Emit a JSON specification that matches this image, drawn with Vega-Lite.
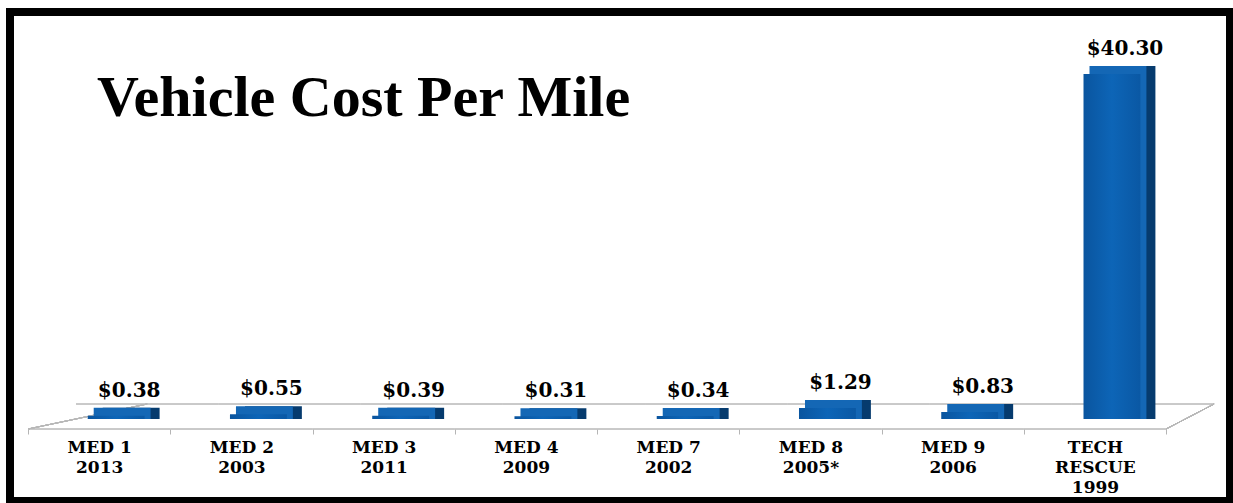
{
  "$schema": "https://vega.github.io/schema/vega-lite/v6.json",
  "width": 1220,
  "height": 489,
  "autosize": {"type": "none"},
  "padding": {"left": 10, "top": 12, "right": 3, "bottom": 2},
  "background": "white",
  "title": {
    "text": "Vehicle Cost Per Mile",
    "anchor": "start",
    "frame": "group",
    "font": "Liberation Serif",
    "fontSize": 58,
    "fontWeight": "bold",
    "color": "black",
    "baseline": "alphabetic",
    "offset": 0,
    "dx": 87,
    "dy": 162
  },
  "data": {
    "values": [
      {"vehicle": "MED 1\n2013", "cost": 0.38},
      {"vehicle": "MED 2\n2003", "cost": 0.55},
      {"vehicle": "MED 3\n2011", "cost": 0.39},
      {"vehicle": "MED 4\n2009", "cost": 0.31},
      {"vehicle": "MED 7\n2002", "cost": 0.34},
      {"vehicle": "MED 8\n2005*", "cost": 1.29},
      {"vehicle": "MED 9\n2006", "cost": 0.83},
      {"vehicle": "TECH\nRESCUE\n1999", "cost": 40.30}
    ]
  },
  "encoding": {
    "x": {
      "field": "vehicle",
      "type": "nominal",
      "sort": null,
      "scale": {"paddingInner": 0, "paddingOuter": 0.288, "align": 0.22},
      "axis": {
        "title": null,
        "orient": "bottom",
        "offset": -72,
        "domain": false,
        "ticks": true,
        "tickBand": "extent",
        "tickSize": 5,
        "tickColor": "#b5b5b5",
        "tickWidth": 1,
        "grid": false,
        "labelAngle": 0,
        "labelFont": "DejaVu Serif",
        "labelFontWeight": "bold",
        "labelFontSize": 17,
        "labelColor": "black",
        "labelPadding": 5,
        "labelBaseline": "top",
        "labelLineHeight": 20,
        "labelExpr": "isValid(datum.value) ? split(datum.value, '\\n') : ''"
      }
    }
  },
  "layer": [
    {
      "mark": {"type": "bar", "fill": "transparent", "stroke": "#b8b8b8", "strokeWidth": 1, "width": {"band": 1}},
      "encoding": {
        "y": {"datum": -1.17, "type": "quantitative", "axis": null, "scale": {"domain": [-9.58, 47.54], "nice": false, "zero": false}},
        "y2": {"datum": -1.17}
      }
    },
    {
      "mark": {"type": "bar", "fill": "transparent", "stroke": "#b8b8b8", "strokeWidth": 1, "width": {"band": 1}, "xOffset": 48},
      "encoding": {
        "y": {"datum": 1.75, "type": "quantitative", "axis": null},
        "y2": {"datum": 1.75}
      }
    },
    {
      "mark": {"type": "rule", "color": "#b8b8b8", "strokeWidth": 1, "x2Offset": 48},
      "encoding": {
        "x": {"datum": "MED 1\n2013", "bandPosition": 0},
        "x2": {"datum": "MED 1\n2013"},
        "y": {"datum": -1.17, "type": "quantitative", "axis": null},
        "y2": {"datum": 1.75}
      }
    },
    {
      "mark": {"type": "rule", "color": "#b8b8b8", "strokeWidth": 1, "x2Offset": 48},
      "encoding": {
        "x": {"datum": "TECH\nRESCUE\n1999", "bandPosition": 1},
        "x2": {"datum": "TECH\nRESCUE\n1999", "bandPosition": 1},
        "y": {"datum": -1.17, "type": "quantitative", "axis": null},
        "y2": {"datum": 1.75}
      }
    },
    {
      "mark": {"type": "bar", "color": "#063b6e", "width": {"band": 0.4}, "xOffset": 32, "yOffset": -8},
      "encoding": {
        "y": {"field": "cost", "type": "quantitative", "axis": null},
        "y2": {"datum": 0}
      }
    },
    {
      "mark": {"type": "bar", "color": "#1467b5", "width": {"band": 0.4}, "xOffset": 23, "yOffset": -8},
      "encoding": {
        "y": {"field": "cost", "type": "quantitative", "axis": null},
        "y2": {"datum": 0}
      }
    },
    {
      "mark": {
        "type": "bar",
        "width": {"band": 0.4},
        "xOffset": 17,
        "color": {
          "gradient": "linear", "x1": 0, "x2": 1, "y1": 0, "y2": 0,
          "stops": [
            {"offset": 0, "color": "#0a559f"},
            {"offset": 0.5, "color": "#0d65b7"},
            {"offset": 1, "color": "#0a58a4"}
          ]
        }
      },
      "encoding": {
        "y": {"field": "cost", "type": "quantitative", "axis": null},
        "y2": {"datum": 0}
      }
    },
    {
      "mark": {"type": "text", "font": "DejaVu Serif", "fontWeight": "bold", "fontSize": 20, "dx": 30, "dy": -19, "baseline": "alphabetic", "color": "black"},
      "encoding": {
        "y": {"field": "cost", "type": "quantitative", "axis": null},
        "text": {"field": "cost", "type": "quantitative", "format": "$.2f"}
      }
    }
  ],
  "config": {
    "view": {"stroke": "black", "strokeWidth": 8, "fill": "white"}
  }
}
